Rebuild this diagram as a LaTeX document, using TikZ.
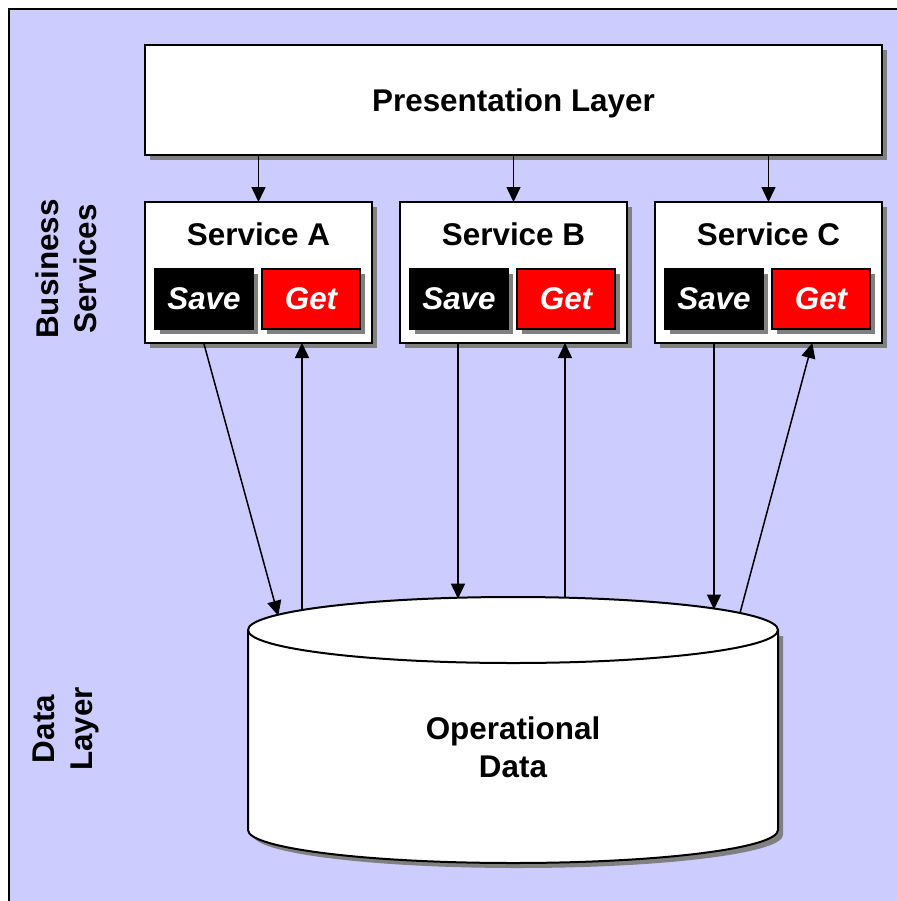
\documentclass[tikz,border=0pt]{standalone}
\usepackage{fontspec}
\setmainfont{Liberation Sans}
\usetikzlibrary{shadows,arrows.meta}

\definecolor{layerbg}{HTML}{CCCCFF}
\definecolor{shadowgray}{HTML}{808080}
\definecolor{getred}{HTML}{FF0000}

\tikzset{
  shade box/.style={drop shadow={shadow xshift=2.5pt, shadow yshift=-2.5pt,
      fill=shadowgray, opacity=1}},
  layerbox/.style={draw, line width=1pt, fill=white, shade box},
  opbox/.style={draw=black, line width=1pt, minimum width=49pt, minimum height=30pt,
      text=white, font=\fontsize{15.7}{19}\selectfont\bfseries\itshape, shade box},
  savebox/.style={opbox, fill=black},
  getbox/.style={opbox, fill=getred},
  lbl/.style={font=\fontsize{15.7}{19}\selectfont\bfseries, align=center},
  arr/.style={-{Triangle[length=7.5pt,width=7pt]}, line width=0.75pt, shorten >=-0.5pt},
}

\begin{document}
\begin{tikzpicture}[x=0.5pt, y=-0.5pt]
  \useasboundingbox (0,0) rectangle (896,901);

  % background of the layers
  \fill[layerbg] (9,9) rectangle (897,902);
  \draw[line width=1pt] (9,902) -- (9,9) -- (897,9);

  \node[lbl, rotate=90] (busLbl) at (66,269) {Business\\Services};
  \node[lbl, rotate=90] (dataLbl) at (66,729) {Data\\Layer};

  % presentation layer
  \node[layerbox, minimum width=368.5pt, minimum height=55pt] (pres) at (513.5,100) {};
  \node[lbl] (presLbl) at (513.5,103) {Presentation Layer};

  % services
  \node[layerbox, minimum width=113.5pt, minimum height=70.5pt] (svcA) at (258.5,272.5) {};
  \node[layerbox, minimum width=113.5pt, minimum height=70.5pt] (svcB) at (513.5,272.5) {};
  \node[layerbox, minimum width=113.5pt, minimum height=70.5pt] (svcC) at (768.5,272.5) {};

  \node[lbl] (titleA) at (258.5,234) {Service A};
  \node[lbl] (titleB) at (513.5,234) {Service B};
  \node[lbl] (titleC) at (768.5,234) {Service C};

  \node[savebox] (saveA) at (204,299) {\raisebox{-1pt}{Save}};
  \node[getbox] (getA) at (311,299) {\raisebox{-1pt}{Get}};
  \node[savebox] (saveB) at (459,299) {\raisebox{-1pt}{Save}};
  \node[getbox] (getB) at (566,299) {\raisebox{-1pt}{Get}};
  \node[savebox] (saveC) at (714,299) {\raisebox{-1pt}{Save}};
  \node[getbox] (getC) at (821,299) {\raisebox{-1pt}{Get}};

  \draw[arr] (svcA.north |- pres.south) -- (svcA.north);
  \draw[arr] (svcB.north |- pres.south) -- (svcB.north);
  \draw[arr] (svcC.north |- pres.south) -- (svcC.north);

  % operational data store
  \fill[shadowgray] (253,636) -- (253,835)
    arc[start angle=180, end angle=0, x radius=265, y radius=33] -- (783,636) -- cycle;
  \filldraw[fill=white, line width=1pt] (248,630) -- (248,830)
    arc[start angle=180, end angle=0, x radius=265, y radius=33] -- (778,630)
    arc[start angle=0, end angle=-180, x radius=265, y radius=33] -- cycle;
  \draw[line width=1pt] (248,630)
    arc[start angle=180, end angle=0, x radius=265, y radius=33];
  \node[lbl] (dbLbl) at (513,747) {Operational\\Data};

  \coordinate (inA) at (278,614.8);
  \coordinate (outA) at (302,610);
  \coordinate (inB) at (458,597.7);
  \coordinate (outB) at (565,597.6);
  \coordinate (inC) at (714,608.5);
  \coordinate (outC) at (740,613);

  \draw[arr] (svcA.south -| saveA) -- (inA);
  \draw[arr] (outA) -- (outA |- svcA.south);
  \draw[arr] (svcB.south -| inB) -- (inB);
  \draw[arr] (outB) -- (outB |- svcB.south);
  \draw[arr] (svcC.south -| inC) -- (inC);
  \draw[arr] (outC) -- (812,344);

\end{tikzpicture}
\end{document}
